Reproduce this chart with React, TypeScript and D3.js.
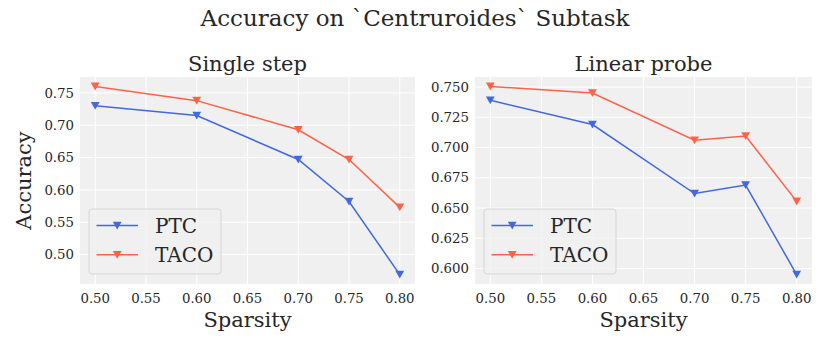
import * as d3 from "d3";

const sparsity = [0.5, 0.6, 0.7, 0.75, 0.8];
const xTicks = [0.5, 0.55, 0.6, 0.65, 0.7, 0.75, 0.8];

const singlePTC = [0.730, 0.715, 0.647, 0.582, 0.469];
const singleTACO = [0.760, 0.738, 0.693, 0.647, 0.573];
const singleTicks = [0.5, 0.55, 0.6, 0.65, 0.7, 0.75];

const probePTC = [0.739, 0.719, 0.662, 0.669, 0.595];
const probeTACO = [0.7505, 0.745, 0.706, 0.7095, 0.6555];
const probeTicks = [0.6, 0.625, 0.65, 0.675, 0.7, 0.725, 0.75];

const seriesNames = ["PTC", "TACO"];
const colors = ["#4169e1", "#ff6347"];

const font = "DejaVu Serif";
const textColor = "#262626";

function pad([lo, hi]: number[]) {
    const m = (hi - lo) * 0.05;
    return [lo - m, hi + m];
}

function Panel({ left, right, title, ptc, taco, yTicks, fmt, showYLabel }: any) {
    const top = 77, bottom = 284;
    const x = d3.scaleLinear(pad(d3.extent(sparsity) as number[]), [left, right]);
    const y = d3.scaleLinear(pad(d3.extent([...ptc, ...taco]) as number[]), [bottom, top]);
    const line = d3.line<number>((d, i) => x(sparsity[i]), (d) => y(d));
    const tri = (cx: number, cy: number) =>
        `M${cx - 4.4},${cy - 3.8}L${cx + 4.4},${cy - 3.8}L${cx},${cy + 4}Z`;
    const all = [ptc, taco];
    const lgX = left + 9, lgY = bottom - 75;
    return (
        <g>
            <rect x={left} y={top} width={right - left} height={bottom - top} fill="#f0f0f0" />
            {xTicks.map((t) => (
                <line key={"gx" + t} x1={x(t)} x2={x(t)} y1={top} y2={bottom} stroke="#fff" strokeWidth={1} />
            ))}
            {yTicks.map((t: number) => (
                <line key={"gy" + t} x1={left} x2={right} y1={y(t)} y2={y(t)} stroke="#fff" strokeWidth={1} />
            ))}
            {xTicks.map((t) => (
                <text key={"tx" + t} x={x(t)} y={303} textAnchor="middle" fontSize={13.3} fill={textColor}>
                    {d3.format(".2f")(t)}
                </text>
            ))}
            {yTicks.map((t: number) => (
                <text key={"ty" + t} x={left - 6} y={y(t)} dy="0.35em" textAnchor="end" fontSize={13.3} fill={textColor}>
                    {fmt(t)}
                </text>
            ))}
            {all.map((s, k) => (
                <g key={"s" + k}>
                    <path d={line(s) ?? ""} fill="none" stroke={colors[k]} strokeWidth={1.5} />
                    {s.map((v: number, i: number) => (
                        <path key={i} d={tri(x(sparsity[i]), y(v))} fill={colors[k]} />
                    ))}
                </g>
            ))}
            <text x={(left + right) / 2} y={71} textAnchor="middle" fontSize={21} fill={textColor}>{title}</text>
            <text x={(left + right) / 2} y={327} textAnchor="middle" fontSize={21} fill={textColor}>Sparsity</text>
            {showYLabel && (
                <text transform={`translate(31,${(top + bottom) / 2}) rotate(-90)`} textAnchor="middle" fontSize={21} fill={textColor}>
                    Accuracy
                </text>
            )}
            <rect x={lgX} y={lgY} width={132} height={65} rx={3} fill="#f0f0f0" fillOpacity={0.8} stroke="#d6d6d6" strokeWidth={1} />
            {seriesNames.map((n, k) => {
                const ly = lgY + 16.5 + k * 29.3;
                return (
                    <g key={n}>
                        <line x1={lgX + 7.5} x2={lgX + 49} y1={ly} y2={ly} stroke={colors[k]} strokeWidth={1.5} />
                        <path d={tri(lgX + 28.2, ly)} fill={colors[k]} />
                        <text x={lgX + 66} y={ly} dy="0.35em" fontSize={20} fill={textColor}>{n}</text>
                    </g>
                );
            })}
        </g>
    );
}

export default function App() {
    return (
        <svg width={830} height={346} style={{ display: "block", position: "absolute", left: 0, top: 0, background: "#fff" }}
            fontFamily={font}>
            <text x={415} y={26} textAnchor="middle" fontSize={23} fill={textColor}>
                Accuracy on `Centruroides` Subtask
            </text>
            <Panel left={80} right={415} title="Single step" ptc={singlePTC} taco={singleTACO}
                yTicks={singleTicks} fmt={d3.format(".2f")} showYLabel />
            <Panel left={475} right={812} title="Linear probe" ptc={probePTC} taco={probeTACO}
                yTicks={probeTicks} fmt={d3.format(".3f")} />
        </svg>
    );
}
